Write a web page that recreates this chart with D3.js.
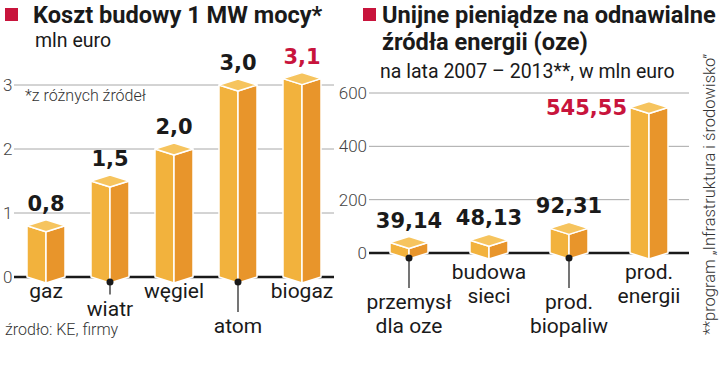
<!DOCTYPE html>
<html>
<head>
<meta charset="utf-8">
<script src="https://cdn.jsdelivr.net/npm/d3@7"></script>
<style>
  body { margin: 0; background: #fff; }
  text { font-family: Roboto, "Liberation Sans", sans-serif; fill: #1a1a1a; }
  .tytul { font-size: 23.6px; font-weight: bold; }
  .pod { font-size: 19.5px; }
  .tick { font-size: 17px; font-weight: 300; fill: #444; }
  .kat { font-size: 21px; }
  .wartosc { font-family: "DejaVu Sans", sans-serif; font-size: 21px; font-weight: bold; }
  .przypis { font-size: 16px; font-weight: 300; fill: #333; }
</style>
</head>
<body>
<div id="graf"></div>
<script>
// Dane - koszt budowy 1 MW mocy (mln euro)
const kategorieKoszt = ["gaz", "wiatr", "węgiel", "atom", "biogaz"]
const wartosciKoszt = [0.8, 1.5, 2.0, 3.0, 3.1]
const ticksKoszt = [0, 1, 2, 3]

// Dane - unijne pieniądze na oze (mln euro)
const kategorieOze = [["przemysł", "dla oze"], ["budowa", "sieci"], ["prod.", "biopaliw"], ["prod.", "energii"]]
const wartosciOze = [39.14, 48.13, 92.31, 545.55]
const ticksOze = [0, 200, 400, 600]

const czerwony = "#c8143c"
const kolory = { lewa: "#f2b23d", prawa: "#e8952b", gora: "#f6c45e" }

const svg = d3.select("#graf")
  .append("svg")
  .attr("width", 720)
  .attr("height", 389)

svg.append("rect").attr("width", 720).attr("height", 389).attr("fill", "white")

// graniastosłup (słupek 3D)
const prism = (g, cx, yTop, y0, w = 19, d = 6) => {
  const p = (pts) => pts.map((q) => q.join(",")).join(" ")
  const s = g.append("g").attr("stroke", "white").attr("stroke-width", 1.5).attr("stroke-linejoin", "round")
  s.append("polygon")
    .attr("points", p([[cx - w, yTop], [cx, yTop + d], [cx, y0 + d], [cx - w, y0]]))
    .attr("fill", kolory.lewa)
  s.append("polygon")
    .attr("points", p([[cx, yTop + d], [cx + w, yTop], [cx + w, y0], [cx, y0 + d]]))
    .attr("fill", kolory.prawa)
  s.append("polygon")
    .attr("points", p([[cx - w, yTop], [cx, yTop - d], [cx + w, yTop], [cx, yTop + d]]))
    .attr("fill", kolory.gora)
}

const tytul = (x, linie, sq) => {
  svg.append("rect").attr("x", sq).attr("y", 8).attr("width", 13).attr("height", 13).attr("fill", czerwony)
  linie.forEach((t, i) => {
    svg.append("text").attr("class", "tytul").attr("x", x).attr("y", 23 + i * 27).text(t)
  })
}

const wykres = (cfg) => {
  const { kategorie, wartosci, ticks, x0, x1, yRange, fmt, poziomy, krok, baza, tickX, anchor } = cfg
  const g = svg.append("g")
  const x = d3.scalePoint().domain(d3.range(kategorie.length)).range([x0, x1]).padding(0.5)
  const y = d3.scaleLinear().domain(d3.extent(ticks)).range(yRange)
  const y0 = y(0)

  // siatka
  g.selectAll(".grid")
    .data(ticks.filter((t) => t > 0))
    .join("line")
    .attr("x1", x0).attr("x2", x1)
    .attr("y1", (d) => y(d)).attr("y2", (d) => y(d))
    .attr("stroke", "#a8a8a8").attr("stroke-width", 1)

  g.selectAll(".tick")
    .data(ticks)
    .join("text")
    .attr("class", "tick")
    .attr("x", tickX)
    .attr("y", (d) => y(d))
    .attr("dy", "0.36em")
    .attr("text-anchor", anchor)
    .text((d) => d)

  // linia bazowa
  g.append("line")
    .attr("x1", x0).attr("x2", x1)
    .attr("y1", y0).attr("y2", y0)
    .attr("stroke", "#1a1a1a").attr("stroke-width", 2.5)

  wartosci.forEach((v, i) => {
    const cx = x(i)
    const yt = y(v)
    prism(g, cx, yt, y0)

    const ostatni = i === wartosci.length - 1
    const lab = g.append("text")
      .attr("class", "wartosc")
      .style("fill", ostatni ? czerwony : "#1a1a1a")
      .text(fmt(v))
    if (cfg.obok && ostatni) {
      lab.attr("x", cx - 22).attr("y", yt + 7).attr("text-anchor", "end")
    } else {
      lab.attr("x", cx).attr("y", yt - 15).attr("text-anchor", "middle")
    }

    // etykiety kategorii
    const lvl = poziomy[i]
    const yl = y0 + baza + lvl * krok
    if (lvl > 0) {
      g.append("circle").attr("cx", cx).attr("cy", y0 + 5).attr("r", 3.5).attr("fill", "#1a1a1a")
      g.append("line")
        .attr("x1", cx).attr("x2", cx)
        .attr("y1", y0 + 5).attr("y2", yl - 21)
        .attr("stroke", "#1a1a1a").attr("stroke-width", 1.2)
    }
    const linie = [].concat(kategorie[i])
    linie.forEach((t, j) => {
      g.append("text")
        .attr("class", "kat")
        .attr("x", cx)
        .attr("y", yl + j * 24)
        .attr("text-anchor", "middle")
        .text(t)
    })
  })
}

// Lewy wykres
tytul(33, ["Koszt budowy 1 MW mocy*"], 5)
svg.append("text").attr("class", "pod").attr("x", 35).attr("y", 47).text("mln euro")
wykres({
  kategorie: kategorieKoszt,
  wartosci: wartosciKoszt,
  ticks: ticksKoszt,
  x0: 14, x1: 334,
  yRange: [277, 85],
  fmt: (v) => v.toFixed(1).replace(".", ","),
  poziomy: [0, 1, 0, 2, 0],
  krok: 17.5,
  baza: 21,
  tickX: 3,
  anchor: "start",
})
svg.append("text").attr("class", "przypis").attr("x", 25).attr("y", 101).text("*z różnych źródeł")
svg.append("text").attr("class", "przypis").attr("x", 5).attr("y", 335).text("źrodło: KE, firmy")

// Prawy wykres
tytul(382, ["Unijne pieniądze na odnawialne", "źródła energii (oze)"], 363)
svg.append("text").attr("class", "pod").attr("x", 380).attr("y", 78).text("na lata 2007 – 2013**, w mln euro")
wykres({
  kategorie: kategorieOze,
  wartosci: wartosciOze,
  ticks: ticksOze,
  x0: 369, x1: 689,
  yRange: [253, 93],
  fmt: (v) => v.toFixed(2).replace(".", ","),
  poziomy: [1, 0, 1, 0],
  krok: 30,
  baza: 26,
  tickX: 367,
  anchor: "end",
  obok: true,
})
svg.append("text")
  .attr("class", "przypis")
  .attr("transform", "translate(715, 335) rotate(-90)")
  .style("font-size", "16.5px")
  .text("**program „Infrastruktura i środowisko”")
</script>
</body>
</html>
